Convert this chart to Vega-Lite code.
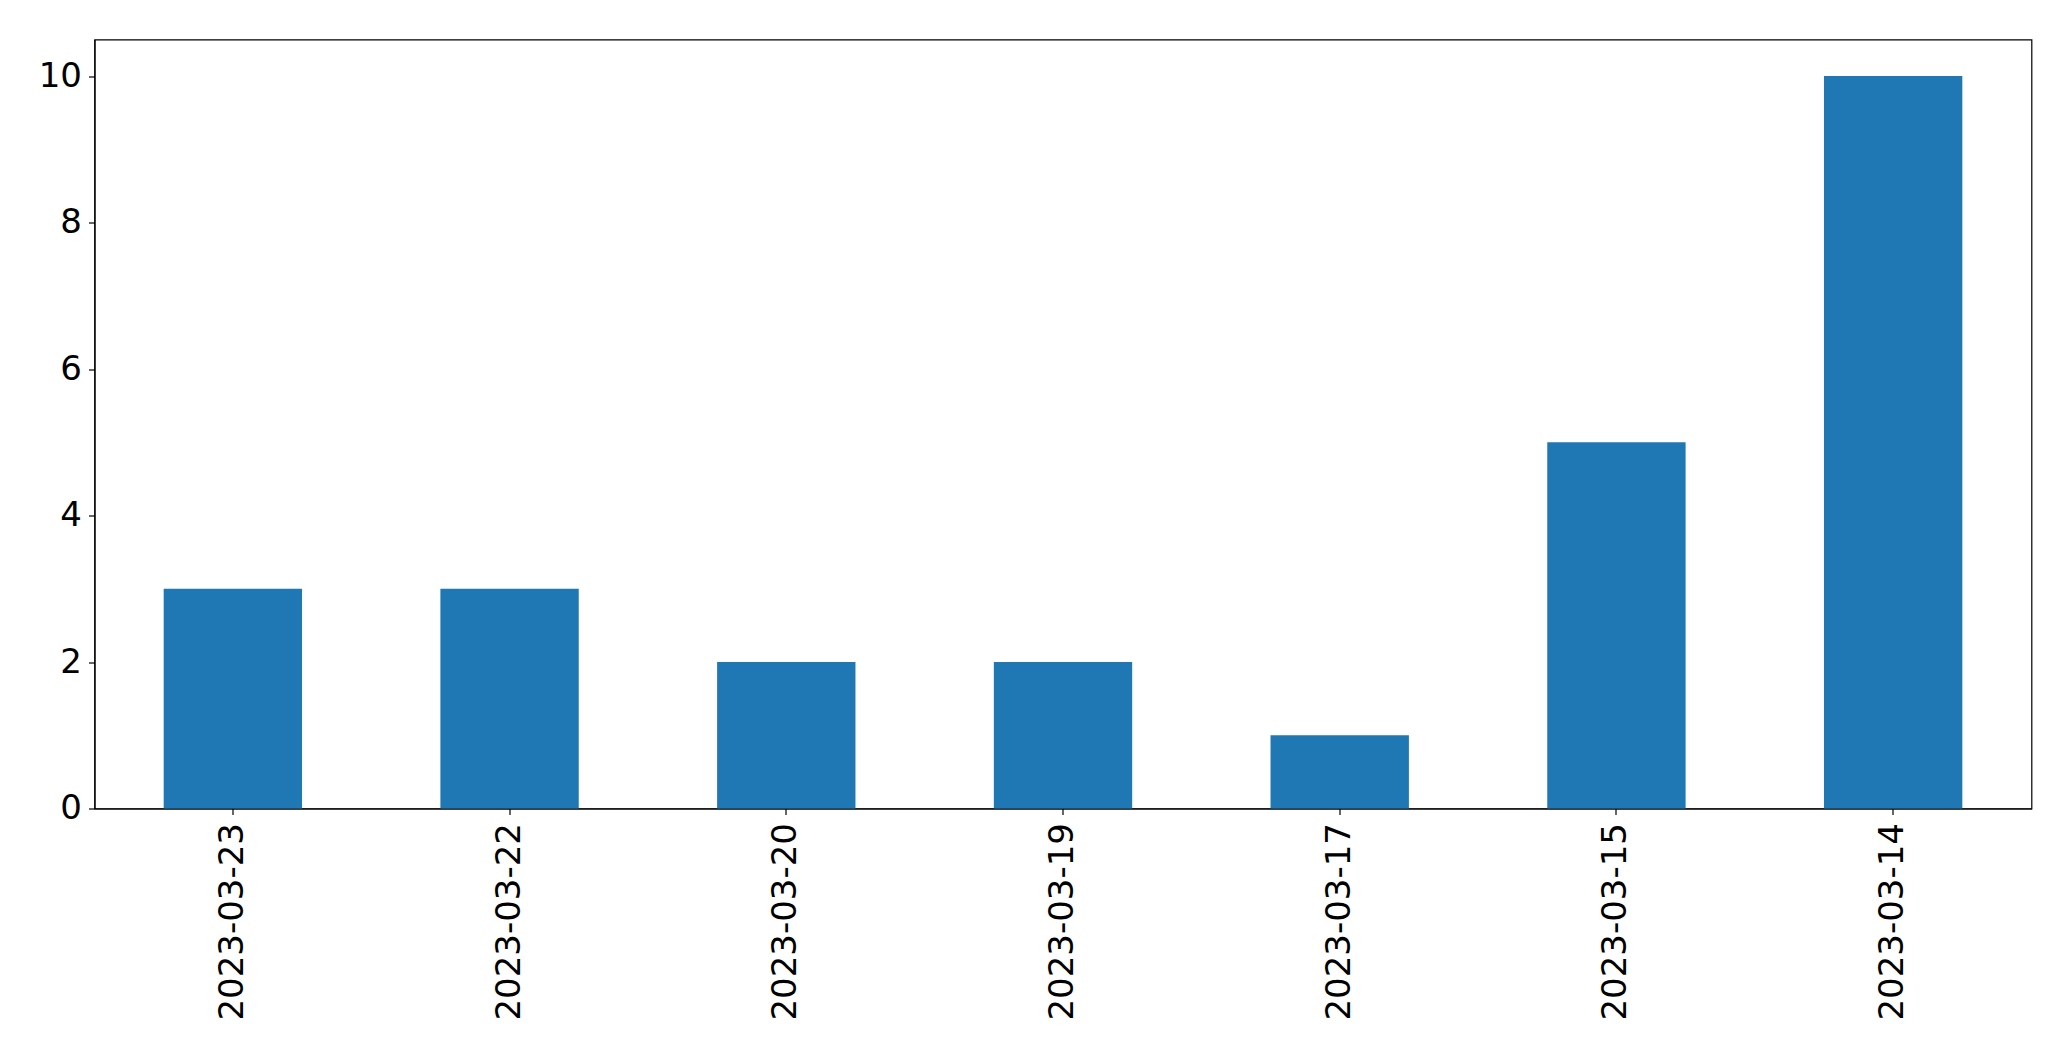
{
  "$schema": "https://vega.github.io/schema/vega-lite/v6.json",
  "width": 1937,
  "height": 769,
  "autosize": "none",
  "padding": {"left": 94.5, "top": 39.5, "right": 39.5, "bottom": 252.5},
  "background": "white",
  "data": {
    "values": [
      {"date": "2023-03-23", "count": 3},
      {"date": "2023-03-22", "count": 3},
      {"date": "2023-03-20", "count": 2},
      {"date": "2023-03-19", "count": 2},
      {"date": "2023-03-17", "count": 1},
      {"date": "2023-03-15", "count": 5},
      {"date": "2023-03-14", "count": 10}
    ]
  },
  "mark": {"type": "bar", "color": "#1f77b4"},
  "encoding": {
    "x": {
      "field": "date",
      "type": "nominal",
      "sort": null,
      "scale": {"paddingInner": 0.5, "paddingOuter": 0.25},
      "axis": {
        "title": null,
        "labelAngle": -90,
        "labelAlign": "right",
        "labelBaseline": "middle",
        "labelFont": "DejaVu Sans",
        "labelFontSize": 34,
        "labelLimit": 0,
        "labelColor": "black",
        "labelPadding": 8,
        "tickSize": 6,
        "tickColor": "black",
        "domainColor": "black",
        "grid": false
      }
    },
    "y": {
      "field": "count",
      "type": "quantitative",
      "scale": {"domain": [0, 10.5], "nice": false},
      "axis": {
        "title": null,
        "values": [0, 2, 4, 6, 8, 10],
        "labelFont": "DejaVu Sans",
        "labelFontSize": 34,
        "labelColor": "black",
        "labelPadding": 7,
        "tickSize": 6,
        "tickColor": "black",
        "domainColor": "black",
        "grid": false
      }
    }
  },
  "config": {
    "view": {"stroke": "black", "strokeWidth": 1.2},
    "axis": {"domainWidth": 1.2, "tickWidth": 1.2}
  }
}
